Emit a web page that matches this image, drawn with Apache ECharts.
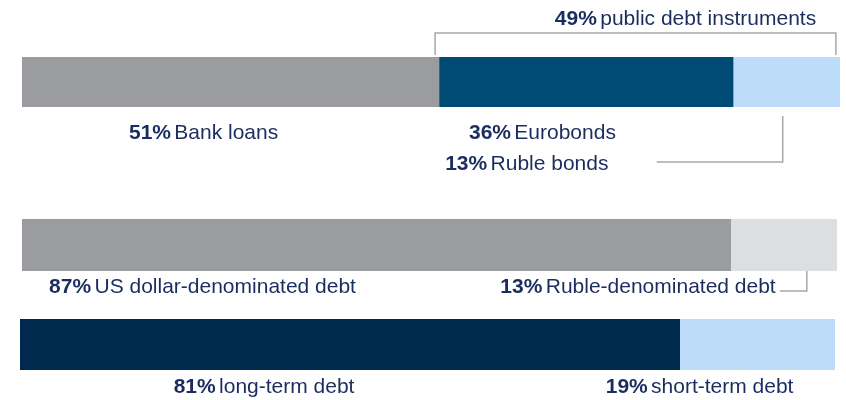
<!DOCTYPE html>
<html>
<head>
<meta charset="utf-8">
<script src="https://cdn.jsdelivr.net/npm/echarts@6/dist/echarts.min.js"></script>
<style>
  html, body { margin: 0; padding: 0; background: #fff; }
  #main { width: 846px; height: 400px; }
</style>
</head>
<body>
<div id="main"></div>
<script>
// debt structure, percent shares
var sourceNames = ['Bank loans', 'Eurobonds', 'Ruble bonds'];
var sourceValues = [51, 36, 13];
var currencyNames = ['US dollar-denominated debt', 'Ruble-denominated debt'];
var currencyValues = [87, 13];
var termNames = ['long-term debt', 'short-term debt'];
var termValues = [81, 19];
var publicShare = 49;
var publicName = 'public debt instruments';

var textColor = '#1b2d5f';
var lineColor = '#a8a8a8';
var font = 'Liberation Sans, Arial, sans-serif';

var chart = echarts.init(document.getElementById('main'));

function lbl(value, name, dx, dy) {
  return {
    show: true,
    position: 'bottom',
    distance: 0,
    offset: [dx, dy],
    formatter: '{b|' + value + '%} {n|' + name + '}',
    rich: {
      b: { fontWeight: 'bold', fontSize: 21, color: textColor, fontFamily: font },
      n: { fontSize: 21, color: textColor, fontFamily: font }
    }
  };
}

function seg(grid, value, name, color, dx, dy) {
  return {
    type: 'bar',
    xAxisIndex: grid,
    yAxisIndex: grid,
    stack: 's' + grid,
    barWidth: '100%',
    silent: true,
    itemStyle: { color: color },
    label: lbl(value, name, dx, dy),
    data: [value]
  };
}

var grids = [
  { left: 22, width: 818, top: 57, height: 50 },
  { left: 22, width: 815, top: 219, height: 52 },
  { left: 20, width: 815, top: 319, height: 51 }
];

var xAxes = [], yAxes = [];
for (var g = 0; g < 3; g++) {
  xAxes.push({ type: 'value', gridIndex: g, min: 0, max: 100, show: false });
  yAxes.push({ type: 'category', gridIndex: g, data: [''], show: false });
}

var option = {
  animation: false,
  textStyle: { fontFamily: font },
  grid: grids,
  xAxis: xAxes,
  yAxis: yAxes,
  series: [
    seg(0, sourceValues[0], sourceNames[0], '#9b9ca0', -27, 16),
    seg(0, sourceValues[1], sourceNames[1], '#004b75', -44, 16),
    seg(0, sourceValues[2], sourceNames[2], '#bddcfa', -260, 47),
    seg(1, currencyValues[0], currencyNames[0], '#9b9ca0', -174, 6),
    seg(1, currencyValues[1], currencyNames[1], '#dcdfe2', -146, 6),
    seg(2, termValues[0], termNames[0], '#00294e', -86, 7),
    seg(2, termValues[1], termNames[1], '#bddcfa', -58, 7)
  ]
};
chart.setOption(option);

// brackets and the public debt caption, placed from the axes
function px(axis, v) { return chart.convertToPixel({ xAxisIndex: axis }, v); }
var a1 = px(0, 50.5), a2 = px(0, 99.5), b1 = px(0, 93), c1 = px(1, 96.3);
chart.setOption({
  graphic: [
    { type: 'polyline', silent: true,
      shape: { points: [[a1, 55], [a1, 33], [a2, 33], [a2, 55]] },
      style: { stroke: lineColor, lineWidth: 1.5, fill: null } },
    { type: 'polyline', silent: true,
      shape: { points: [[b1, 116], [b1, 162], [b1 - 126, 162]] },
      style: { stroke: lineColor, lineWidth: 1.5, fill: null } },
    { type: 'polyline', silent: true,
      shape: { points: [[c1, 267], [c1, 291], [c1 - 27, 291]] },
      style: { stroke: lineColor, lineWidth: 1.5, fill: null } },
    { type: 'text', silent: true, x: (a1 + a2) / 2 + 50, y: 19,
      style: {
        text: '{b|' + publicShare + '%} {n|' + publicName + '}',
        align: 'center', verticalAlign: 'middle',
        rich: {
          b: { fontWeight: 'bold', fontSize: 21, fill: textColor, fontFamily: font },
          n: { fontSize: 21, fill: textColor, fontFamily: font }
        }
      } }
  ]
});
</script>
</body>
</html>
